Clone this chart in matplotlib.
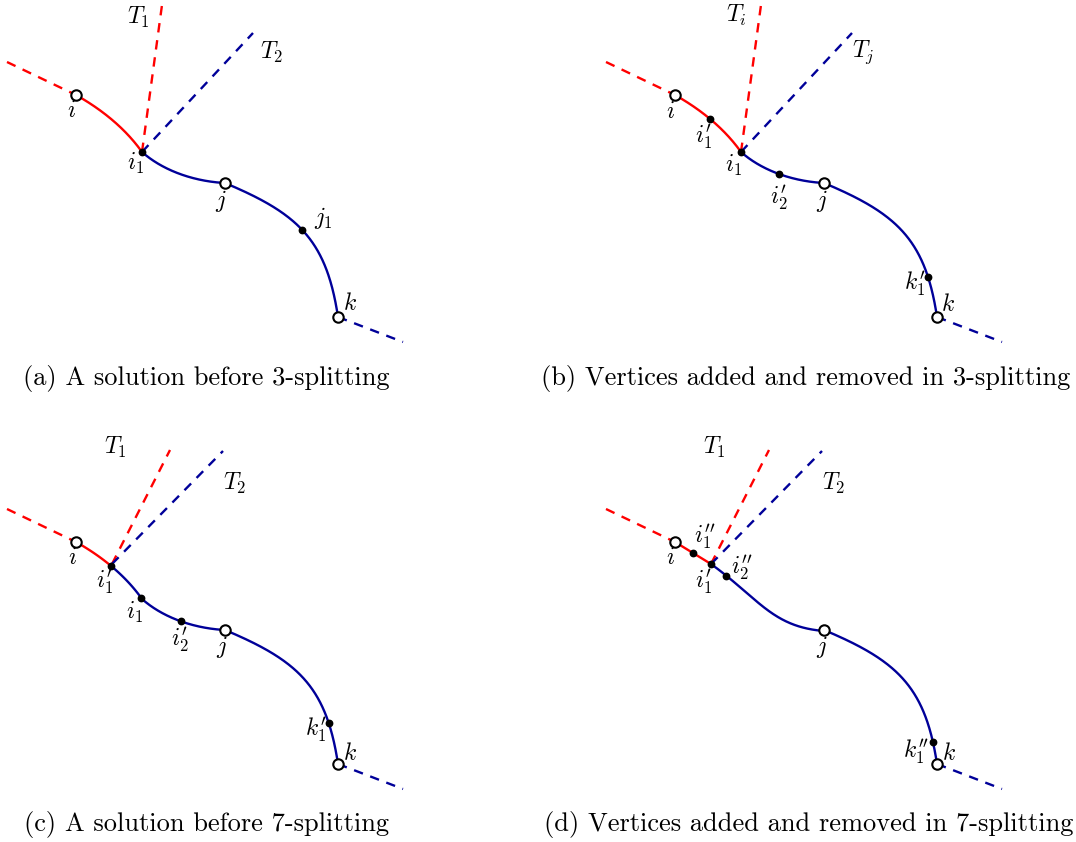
import numpy as np
import matplotlib.pyplot as plt

plt.rcParams['mathtext.fontset'] = 'cm'

RED = '#ff0000'
BLUE = '#000099'

# panel offsets in pixels (a, b, c, d)
panel_names = ['a', 'b', 'c', 'd']
panel_dx = [0, 599, 0, 599]
panel_dy = [0, 0, 447, 447]

# shared geometry, read in panel (a) pixel coordinates
node_i = (76, 95)
node_j = (225, 183)
node_k = (338, 317)
lead_in = (7, 62)
lead_out = (403, 342)

# bezier control points of the path pieces
seg_i_i1 = [(76, 95), (101, 109), (125, 128), (142, 152)]
seg_i1_j = [(142, 152), (164, 171.5), (195.5, 181.5), (225, 183)]
seg_j_k = [(225, 183), (297.6, 213.5), (326.3, 239.1), (338, 317)]
seg_d_mid = [(112, 117), (159.8, 151.5), (173, 179.8), (225, 184)]

# tangent lines: start point, red end, blue end
tan_start = [(142, 152), (142, 152), (112, 117), (112, 117)]
tan_red_end = [(162, 5), (162, 5), (170, 3), (170, 3)]
tan_blue_end = [(253, 33), (253, 33), (223, 4), (223, 4)]

# small black vertices (panel-local coords)
dots = {
    'a': [(142, 152), (303, 229)],
    'b': [(112, 117), (142, 152), (180, 176), (328, 277)],
    'c': [(112, 117), (142, 151), (181, 176), (328, 276)],
    'd': [(95, 105), (112, 117), (128, 128), (332, 296)],
}

P1 = r'^{\prime}'
P2 = r'^{\prime\prime}'

# labels: text, x, y (panel-local coords)
labels = {
    'a': [(r'$T_1$', 138, 17), (r'$T_2$', 272, 52), (r'$i$', 71, 110),
          (r'$i_1$', 136, 163), (r'$j$', 221, 201), (r'$j_1$', 323, 218),
          (r'$k$', 350, 303)],
    'b': [(r'$T_i$', 137, 15), (r'$T_j$', 264, 52), (r'$i$', 71, 111),
          (r'$i_1' + P1 + '$', 105, 137), (r'$i_1$', 135, 165),
          (r'$i_2' + P1 + '$', 180, 198),
          (r'$j$', 223, 201), (r'$k_1' + P1 + '$', 316, 284), (r'$k$', 349, 304)],
    'c': [(r'$T_1$', 115, 0), (r'$T_2$', 235, 36), (r'$i$', 72, 110),
          (r'$i_1' + P1 + '$', 105, 135), (r'$i_1$', 135, 165),
          (r'$i_2' + P1 + '$', 180, 193),
          (r'$j$', 222, 200), (r'$k_1' + P1 + '$', 316, 283), (r'$k$', 350, 306)],
    'd': [(r'$T_1$', 115, 0), (r'$T_2$', 235, 36), (r'$i$', 71, 110),
          (r'$i_1' + P2 + '$', 106, 90), (r'$i_1' + P1 + '$', 105, 135),
          (r'$i_2' + P2 + '$', 143, 121),
          (r'$j$', 223, 200), (r'$k_1' + P2 + '$', 317, 305), (r'$k$', 350, 306)],
}

captions = ['(a) A solution before 3-splitting',
            '(b) Vertices added and removed in 3-splitting',
            '(c) A solution before 7-splitting',
            '(d) Vertices added and removed in 7-splitting']
caption_x = [206, 806, 206, 809]
caption_y = [378, 378, 825, 825]


def bezier(ctrl, n=200):
    p = np.array(ctrl, dtype=float)
    t = np.linspace(0, 1, n)[:, None]
    return ((1 - t) ** 3 * p[0] + 3 * (1 - t) ** 2 * t * p[1]
            + 3 * (1 - t) * t ** 2 * p[2] + t ** 3 * p[3])


def snap(pt, curves):
    pts = np.vstack(curves)
    d = np.hypot(pts[:, 0] - pt[0], pts[:, 1] - pt[1])
    return pts[np.argmin(d)]


fig = plt.figure(figsize=(10.76, 8.42), dpi=100)
ax = fig.add_axes([0, 0, 1, 1])
ax.set_xlim(0, 1076)
ax.set_ylim(842, 0)
ax.axis('off')

lw = 1.7
dash = (4, 3.3)

for n, name in enumerate(panel_names):
    dx, dy = panel_dx[n], panel_dy[n]

    def sh(p):
        return np.asarray(p, dtype=float) + [dx, dy]

    # lead-in / lead-out dashed edges
    a0, a1 = sh(lead_in), sh(node_i)
    ax.plot([a0[0], a1[0]], [a0[1], a1[1]], color=RED, lw=lw, dashes=dash)
    b0, b1 = sh(node_k), sh(lead_out)
    ax.plot([b0[0], b1[0]], [b0[1], b1[1]], color=BLUE, lw=lw, dashes=dash)

    # tangent lines
    s = sh(tan_start[n])
    r = sh(tan_red_end[n])
    b = sh(tan_blue_end[n])
    ax.plot([s[0], r[0]], [s[1], r[1]], color=RED, lw=lw, dashes=dash)
    ax.plot([s[0], b[0]], [s[1], b[1]], color=BLUE, lw=lw, dashes=dash)

    # main path
    c1 = bezier(seg_i_i1)
    c2 = bezier(seg_i1_j)
    c3 = bezier(seg_j_k)
    if name in ('a', 'b'):
        ax.plot(c1[:, 0] + dx, c1[:, 1] + dy, color=RED, lw=lw)
        blue_parts = [c2, c3]
        curves = [c1, c2, c3]
    elif name == 'c':
        cut = np.argmin(np.hypot(c1[:, 0] - 112, c1[:, 1] - 117))
        ax.plot(c1[:cut + 1, 0] + dx, c1[:cut + 1, 1] + dy, color=RED, lw=lw)
        blue_parts = [c1[cut:], c2, c3]
        curves = [c1, c2, c3]
    else:
        line = np.array([node_i, (112, 117)], dtype=float)
        seg = np.column_stack([np.linspace(line[0, 0], line[1, 0], 50),
                               np.linspace(line[0, 1], line[1, 1], 50)])
        ax.plot(seg[:, 0] + dx, seg[:, 1] + dy, color=RED, lw=lw)
        cm = bezier(seg_d_mid)
        blue_parts = [cm, c3]
        curves = [seg, cm, c3]
    for part in blue_parts:
        ax.plot(part[:, 0] + dx, part[:, 1] + dy, color=BLUE, lw=lw)

    # vertices
    for p in dots[name]:
        q = snap(p, curves)
        ax.plot(q[0] + dx, q[1] + dy, 'o', color='black', ms=4.6, zorder=5)
    for p in (node_i, node_j, node_k):
        q = sh(p)
        ax.plot(q[0], q[1], 'o', mfc='white', mec='black', mew=1.5,
                ms=7.5, zorder=6)

    for txt, x, y in labels[name]:
        ax.text(x + dx, y + dy, txt, fontsize=17, ha='center', va='center')

    ax.text(caption_x[n], caption_y[n], captions[n], fontsize=19,
            family='cmr10', ha='center', va='center')

fig.savefig('out.png', dpi=100)
